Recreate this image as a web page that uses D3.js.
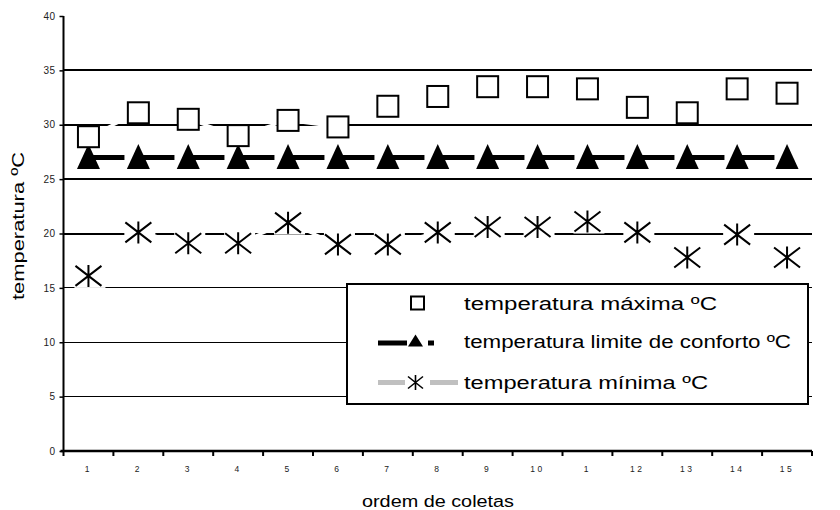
<!DOCTYPE html>
<html>
<head>
<meta charset="utf-8">
<script src="https://cdn.jsdelivr.net/npm/d3@7"></script>
<style>
  html, body { margin: 0; padding: 0; background: #fff; }
  svg { display: block; font-family: "Liberation Sans", Arial, sans-serif; }
</style>
</head>
<body>
<svg id="chart" width="840" height="510"></svg>
<script>
// Collection order and axis labels
const coletas = [1, 2, 3, 4, 5, 6, 7, 8, 9, 10, 11, 12, 13, 14, 15];
const tickLabels = ["1", "2", "3", "4", "5", "6", "7", "8", "9", "10", "1", "12", "13", "14", "15"];
const yTicks = [0, 5, 10, 15, 20, 25, 30, 35, 40];

// Temperatures (ºC) per collection
const tempMaxima = [28.9, 31.1, 30.5, 29.0, 30.4, 29.8, 31.7, 32.6, 33.5, 33.5, 33.3, 31.6, 31.1, 33.3, 32.9];
const tempConforto = [27, 27, 27, 27, 27, 27, 27, 27, 27, 27, 27, 27, 27, 27, 27];
const tempMinima = [16.1, 20.1, 19.1, 19.1, 21.0, 19.0, 19.0, 20.1, 20.6, 20.6, 21.1, 20.1, 17.8, 19.9, 17.8];

const legendLabels = ["temperatura máxima ºC", "temperatura limite de conforto ºC", "temperatura mínima ºC"];

const svg = d3.select("#chart");
const plotL = 63.5, plotR = 812, plotT = 16, plotB = 451;

const x = d3.scaleBand().domain(d3.range(coletas.length)).range([plotL, plotR]).paddingInner(0).paddingOuter(0);
const y = d3.scaleLinear().domain([0, 40]).range([plotB, plotT]);
const cx = i => x(i) + x.bandwidth() / 2;

// Horizontal gridlines: heavier from 20 up
svg.append("g").selectAll("line")
  .data(yTicks.filter(v => v > 0 && v < 40))
  .join("line")
  .attr("x1", plotL).attr("x2", plotR)
  .attr("y1", d => y(d)).attr("y2", d => y(d))
  .attr("stroke", "#000")
  .attr("stroke-width", d => d >= 20 ? 2 : 1)
  .attr("shape-rendering", "crispEdges");

// White connectors of the max/min series, breaking the gridlines they cross
const conn = d3.line().x((d, i) => cx(i)).y(d => y(d));
svg.append("path").attr("d", conn(tempMaxima)).attr("fill", "none").attr("stroke", "#fff").attr("stroke-width", 3);
svg.append("path").attr("d", conn(tempMinima)).attr("fill", "none").attr("stroke", "#fff").attr("stroke-width", 3);

// Axes
const yAxis = d3.axisLeft(y).tickValues(yTicks).tickSize(4).tickSizeOuter(0).tickPadding(4);
const gy = svg.append("g").attr("transform", `translate(${plotL},0)`).call(yAxis);
gy.select(".domain").attr("stroke-width", 2).attr("d", `M0,${plotT}V${plotB}`);
gy.selectAll(".tick line").attr("stroke-width", 1.5);
gy.selectAll("text").attr("font-size", 10).attr("letter-spacing", 0.5).attr("fill", "#222")
  .attr("font-family", "'Liberation Sans', Arial, sans-serif");

const xAxis = d3.axisBottom(x).tickSize(0).tickPadding(15).tickFormat(i => tickLabels[i]);
const gx = svg.append("g").attr("transform", `translate(0,${plotB})`).call(xAxis);
gx.select(".domain").attr("stroke-width", 2.5).attr("d", `M${plotL - 3},0H${plotR}`);
gx.selectAll("text").attr("font-size", 8.5).attr("letter-spacing", 2.5).attr("fill", "#222")
  .attr("font-family", "'Liberation Sans', Arial, sans-serif");
// Tick marks on the category boundaries
gx.append("g").selectAll("line")
  .data(d3.range(coletas.length + 1))
  .join("line")
  .attr("x1", i => plotL + i * x.step()).attr("x2", i => plotL + i * x.step())
  .attr("y1", 0).attr("y2", 5)
  .attr("stroke", "#000").attr("stroke-width", 2);

// Comfort limit line with triangles
svg.append("path")
  .attr("d", d3.line().x((d, i) => cx(i)).y(d => y(d))(tempConforto))
  .attr("fill", "none").attr("stroke", "#000").attr("stroke-width", 5)
  .attr("stroke-dasharray", "36,14");

const tri = (px, py, w, h) => `M${px},${py - h / 2}L${px + w / 2},${py + h / 2}L${px - w / 2},${py + h / 2}Z`;
svg.append("g").selectAll("path")
  .data(tempConforto)
  .join("path")
  .attr("d", (d, i) => tri(cx(i), y(d) - 1, 23, 25))
  .attr("fill", "#000");

// Max temperature: open squares
svg.append("g").selectAll("rect")
  .data(tempMaxima)
  .join("rect")
  .attr("x", (d, i) => cx(i) - 10.5).attr("y", d => y(d) - 10.5)
  .attr("width", 21).attr("height", 21)
  .attr("fill", "#fff").attr("stroke", "#000").attr("stroke-width", 2);

// Min temperature: star markers on a white backing
const star = (px, py) => `M${px},${py - 11}V${py + 11}M${px - 13},${py - 10}L${px + 13},${py + 10}M${px - 13},${py + 10}L${px + 13},${py - 10}`;
const gMin = svg.append("g");
gMin.selectAll("rect")
  .data(tempMinima)
  .join("rect")
  .attr("x", (d, i) => cx(i) - 14).attr("y", d => y(d) - 12)
  .attr("width", 31).attr("height", 24)
  .attr("fill", "#fff");
gMin.selectAll("path")
  .data(tempMinima)
  .join("path")
  .attr("d", (d, i) => star(cx(i), y(d)))
  .attr("fill", "none").attr("stroke", "#000").attr("stroke-width", 2);

// Axis titles
svg.append("text")
  .attr("transform", "translate(24,226) rotate(-90)")
  .attr("text-anchor", "middle")
  .attr("font-size", 17)
  .attr("textLength", 148).attr("lengthAdjust", "spacingAndGlyphs")
  .text("temperatura ºC");

svg.append("text")
  .attr("x", 438).attr("y", 506.5)
  .attr("text-anchor", "middle")
  .attr("font-size", 16)
  .attr("textLength", 152).attr("lengthAdjust", "spacingAndGlyphs")
  .text("ordem de coletas");

// Legend
const lg = svg.append("g");
lg.append("rect").attr("x", 347).attr("y", 284).attr("width", 461).attr("height", 120)
  .attr("fill", "#fff").attr("stroke", "#000").attr("stroke-width", 2);

const rowsY = [303, 341.5, 382.5];
const textLens = [253, 327, 244];
lg.selectAll("text")
  .data(legendLabels)
  .join("text")
  .attr("x", 464).attr("y", (d, i) => rowsY[i] + 6.5)
  .attr("font-size", 17.5)
  .attr("textLength", (d, i) => textLens[i]).attr("lengthAdjust", "spacingAndGlyphs")
  .text(d => d);

// row 1: square
lg.append("rect").attr("x", 411).attr("y", rowsY[0] - 6.5).attr("width", 13).attr("height", 13)
  .attr("fill", "#fff").attr("stroke", "#000").attr("stroke-width", 2);
// row 2: thick line, triangle, short dash
lg.append("line").attr("x1", 378).attr("x2", 407).attr("y1", rowsY[1] + 1.5).attr("y2", rowsY[1] + 1.5)
  .attr("stroke", "#000").attr("stroke-width", 5);
lg.append("line").attr("x1", 428).attr("x2", 434).attr("y1", rowsY[1] + 1.5).attr("y2", rowsY[1] + 1.5)
  .attr("stroke", "#000").attr("stroke-width", 5);
lg.append("path").attr("d", tri(415.5, rowsY[1] - 1, 15, 12)).attr("fill", "#000");
// row 3: grey line with star
lg.append("line").attr("x1", 378).attr("x2", 405).attr("y1", rowsY[2]).attr("y2", rowsY[2])
  .attr("stroke", "#c0c0c0").attr("stroke-width", 5);
lg.append("line").attr("x1", 430).attr("x2", 458).attr("y1", rowsY[2]).attr("y2", rowsY[2])
  .attr("stroke", "#c0c0c0").attr("stroke-width", 5);
lg.append("path")
  .attr("d", `M415.5,${rowsY[2] - 7.5}V${rowsY[2] + 7.5}M408,${rowsY[2] - 6}L423,${rowsY[2] + 6}M408,${rowsY[2] + 6}L423,${rowsY[2] - 6}`)
  .attr("fill", "none").attr("stroke", "#000").attr("stroke-width", 1.6);
</script>
</body>
</html>
